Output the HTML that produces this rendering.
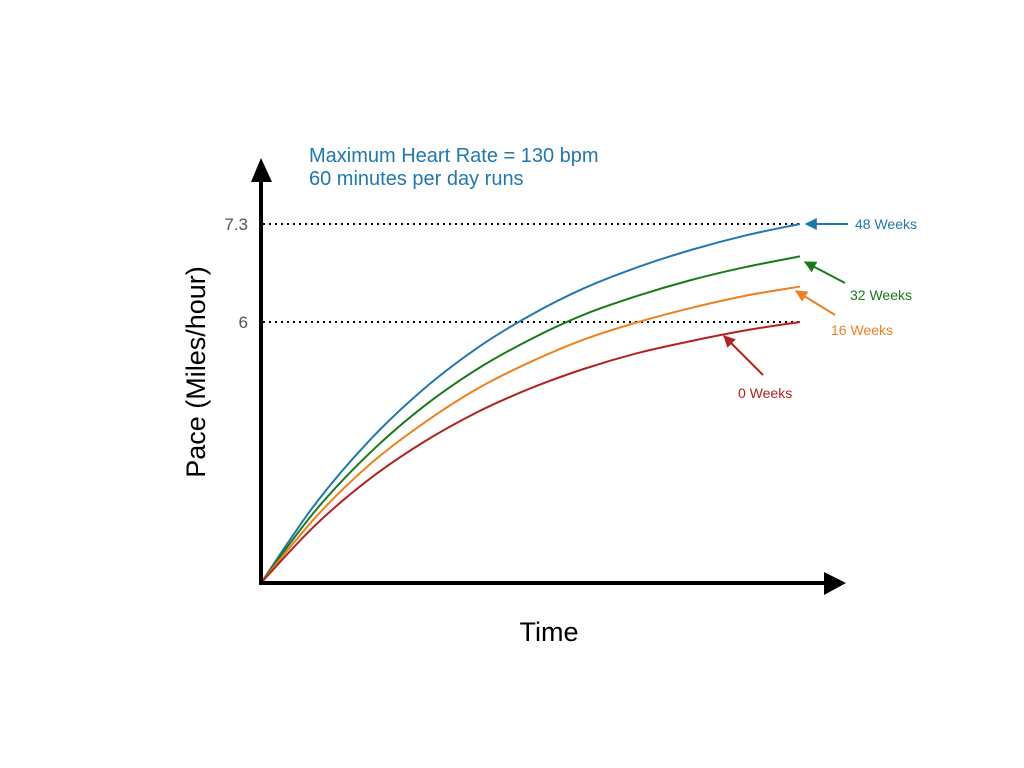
<!DOCTYPE html>
<html><head><meta charset="utf-8"><style>
body{margin:0;background:#fff;}
svg{display:block;font-family:"Liberation Sans",sans-serif;}
</style></head><body>
<svg width="1024" height="768" viewBox="0 0 1024 768">
<defs>
<marker id="ah" viewBox="0 0 10 10" refX="9" refY="5" markerWidth="6" markerHeight="6" orient="auto-start-reverse"><path d="M0,0L10,5L0,10z" fill="context-stroke"/></marker>
</defs>
<g id="grid"></g>
<g id="series"></g>
<g id="axes">
<path d="M261,585 L261,178" stroke="#000" stroke-width="4"/>
<path d="M251,182 L261,158 L272,182 Z" fill="#000"/>
<path d="M259,583 L828,583" stroke="#000" stroke-width="4"/>
<path d="M824,572 L846,583 L824,595 Z" fill="#000"/>
</g>
<text x="309" y="162" font-size="20" fill="#1f77b4">Maximum Heart Rate = 130 bpm</text>
<text x="309" y="185" font-size="20" fill="#1f77b4">60 minutes per day runs</text>
<text x="549" y="641" font-size="27" text-anchor="middle" fill="#000">Time</text>
<text transform="translate(205,372) rotate(-90)" font-size="27" text-anchor="middle" fill="#000">Pace (Miles/hour)</text>
<g id="ticks"></g>
<g id="annots"></g>
</svg>
<script>
const ns="http://www.w3.org/2000/svg";
const times=[0,0.1,0.2,0.3,0.4,0.5,0.6,0.7,0.8,0.9,1];
const seriesNames=["48 Weeks","32 Weeks","16 Weeks","0 Weeks"];
const pace48=[2.54,3.58,4.42,5.10,5.65,6.09,6.45,6.73,6.96,7.15,7.30];
const pace32=[2.54,3.49,4.25,4.87,5.37,5.77,6.10,6.35,6.56,6.73,6.87];
const pace16=[2.54,3.40,4.10,4.65,5.11,5.47,5.77,6.00,6.19,6.35,6.47];
const pace0=[2.54,3.30,3.91,4.40,4.80,5.12,5.38,5.59,5.75,5.89,6.00];
const tickValues=[6,7.3];
const tickLabels=["6","7.3"];
const colors=["#1f77b4","#1a7a1a","#f07f1e","#b22222"];
const all=[pace48,pace32,pace16,pace0];
function xs(t){return 261+t*539;}
function ys(v){return 322-(v-6)*75.4;}
function el(tag,attrs,parent){const e=document.createElementNS(ns,tag);for(const k in attrs)e.setAttribute(k,attrs[k]);parent.appendChild(e);return e;}
const grid=document.getElementById('grid'),ticks=document.getElementById('ticks');
tickValues.forEach((v,i)=>{
 const l=el('line',{x1:263,x2:800,y1:ys(v),y2:ys(v),stroke:'#000','stroke-width':2,'stroke-dasharray':'2,4'},grid);
 
 
 const t=el('text',{x:248,y:ys(v)+6,'font-size':17,'text-anchor':'end',fill:'#555'},ticks);
 t.textContent=tickLabels[i];
 
 
});
const sg=document.getElementById('series');
all.forEach((s,si)=>{
 const p=s.map((v,i)=>[xs(times[i]),ys(v)]);
 let d='M'+p[0][0]+','+p[0][1];
 for(let i=0;i<p.length-1;i++){
  const p0=p[Math.max(0,i-1)],p1=p[i],p2=p[i+1],p3=p[Math.min(p.length-1,i+2)];
  const c1=[p1[0]+(p2[0]-p0[0])/6,p1[1]+(p2[1]-p0[1])/6];
  const c2=[p2[0]-(p3[0]-p1[0])/6,p2[1]-(p3[1]-p1[1])/6];
  d+=` C${c1[0]},${c1[1]} ${c2[0]},${c2[1]} ${p2[0]},${p2[1]}`;
 }
 const path=el('path',{d:d,fill:'none',stroke:colors[si],'stroke-width':2},sg);
 
 
});
const an=document.getElementById('annots');
const ann=[
 {a:[848,224,806,224],t:[855,229],anchor:'start'},
 {a:[845,283,805,262],t:[850,300],anchor:'start'},
 {a:[835,315,796,291],t:[831,335],anchor:'start'},
 {a:[763,375,724,336],t:[738,398],anchor:'start'}];
ann.forEach((o,i)=>{
 const l=el('line',{x1:o.a[0],y1:o.a[1],x2:o.a[2],y2:o.a[3],stroke:colors[i],'stroke-width':2,'marker-end':'url(#ah)'},an);
 
 
 const t=el('text',{x:o.t[0],y:o.t[1],'font-size':14,fill:colors[i],'text-anchor':o.anchor},an);
 t.textContent=seriesNames[i];
 
 
});
</script>
</body></html>
